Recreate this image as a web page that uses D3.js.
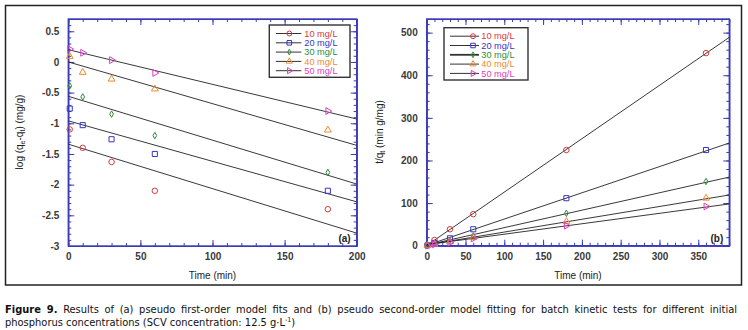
<!DOCTYPE html>
<html>
<head>
<meta charset="utf-8">
<script src="https://cdn.jsdelivr.net/npm/d3@7"></script>
<style>
	body { margin: 0; background: #fff; }
	svg text { font-family: "Liberation Sans", Arial, sans-serif; }
	.tick text { font-size: 10px; font-weight: bold; fill: #3a3a3a; }
	.axis path, .axis line { stroke: #3b3bb8; }
	.caption text { font-family: "Liberation Sans Narrow", "DejaVu Sans Condensed", sans-serif; }
</style>
</head>
<body>
<svg id="chart" width="748" height="330"></svg>
<script>
"use strict";

// concentrations shared by both panels
var concLabels = ["10 mg/L", "20 mg/L", "30 mg/L", "40 mg/L", "50 mg/L"];
var concColors = ["#d83a3a", "#3535c8", "#2e8b3a", "#ef8a2e", "#e03cc0"];

// (a) pseudo first-order: log(qe - qt)
var timesA = [1, 10, 30, 60, 180];
var pfo10 = [-1.10, -1.40, -1.63, -2.10, -2.40];
var pfo20 = [-0.76, -1.03, -1.26, -1.50, -2.10];
var pfo30 = [-0.39, -0.57, -0.85, -1.20, -1.80];
var pfo40 = [0.09, -0.17, -0.28, -0.44, -1.11];
var pfo50 = [0.21, 0.15, 0.03, -0.18, -0.80];
// fit lines: values at t = 0 and t = 200
var fitTimesA = [0, 200];
var fitA10 = [-1.34, -2.79];
var fitA20 = [-0.96, -2.28];
var fitA30 = [-0.56, -1.99];
var fitA40 = [0.00, -1.36];
var fitA50 = [0.20, -0.93];

// (b) pseudo second-order: t/qt
var timesB = [1, 10, 30, 60, 180, 360];
var pso10 = [1.2, 13.4, 38.6, 74, 224.5, 452];
var pso20 = [0.8, 6.5, 17.4, 38.6, 111.5, 224.5];
var pso30 = [0.6, 4.5, 11.5, 23, 76, 150.6];
var pso40 = [0.5, 3.5, 9, 19, 56.5, 111.5];
var pso50 = [0.4, 3, 7.5, 17, 47, 92];
// fit lines: values at t = 0 and t = 390
var fitTimesB = [0, 390];
var fitB10 = [0.5, 489];
var fitB20 = [1, 241];
var fitB30 = [1.5, 161];
var fitB40 = [2, 119];
var fitB50 = [2.5, 98];

var ticksA_x = [0, 50, 100, 150, 200];
var ticksA_y = [-3, -2.5, -2, -1.5, -1, -0.5, 0, 0.5];
var ticksB_x = [0, 50, 100, 150, 200, 250, 300, 350];
var ticksB_y = [0, 100, 200, 300, 400, 500];

var svg = d3.select('#chart');
var noLabel = function() { return ''; };

//outer frame
svg.append('rect')
	.attr('x', 5.5).attr('y', 5.5)
	.attr('width', 736).attr('height', 279.5)
	.attr('fill', 'none').attr('stroke', '#222').attr('stroke-width', 1.5);

var symbols = [
	{type: d3.symbolCircle, size: 24, rotate: 0},
	{type: d3.symbolSquare, size: 26, rotate: 0},
	{type: d3.symbolDiamond, size: 12, rotate: 0},
	{type: d3.symbolTriangle, size: 20, rotate: 0},
	{type: d3.symbolTriangle, size: 20, rotate: 90}
];

function range(a, b, step) {
	var out = [];
	for(var v = a; v <= b + 1e-9; v += step) out.push(+v.toFixed(6));
	return out;
}

function drawPanel(opts) {
	var x = d3.scaleLinear().domain(opts.xDomain).range([opts.left, opts.right]);
	var y = d3.scaleLinear().domain(opts.yDomain).range([opts.bottom, opts.top]);
	var g = svg.append('g');

	//minor ticks on all four sides
	var xMinor = range(opts.xDomain[0], opts.xDomain[1], opts.xMinor);
	var yMinor = range(opts.yMinorStart, opts.yDomain[1], opts.yMinor);
	g.append('g').attr('class', 'axis').attr('transform', 'translate(0,' + opts.bottom + ')')
		.call(d3.axisBottom(x).tickValues(xMinor).tickSizeInner(-3).tickSizeOuter(0).tickFormat(noLabel));
	g.append('g').attr('class', 'axis').attr('transform', 'translate(0,' + opts.top + ')')
		.call(d3.axisTop(x).tickValues(xMinor).tickSizeInner(-3).tickSizeOuter(0).tickFormat(noLabel));
	g.append('g').attr('class', 'axis').attr('transform', 'translate(' + opts.left + ',0)')
		.call(d3.axisLeft(y).tickValues(yMinor).tickSizeInner(-3).tickSizeOuter(0).tickFormat(noLabel));
	g.append('g').attr('class', 'axis').attr('transform', 'translate(' + opts.right + ',0)')
		.call(d3.axisRight(y).tickValues(yMinor).tickSizeInner(-3).tickSizeOuter(0).tickFormat(noLabel));

	//major ticks, labelled on bottom and left only
	g.append('g').attr('class', 'axis').attr('transform', 'translate(0,' + opts.bottom + ')')
		.call(d3.axisBottom(x).tickValues(opts.xTicks).tickSizeInner(-6).tickSizeOuter(0).tickPadding(7).tickFormat(d3.format('')));
	g.append('g').attr('class', 'axis').attr('transform', 'translate(0,' + opts.top + ')')
		.call(d3.axisTop(x).tickValues(opts.xTicks).tickSizeInner(-6).tickSizeOuter(0).tickFormat(noLabel));
	g.append('g').attr('class', 'axis').attr('transform', 'translate(' + opts.left + ',0)')
		.call(d3.axisLeft(y).tickValues(opts.yTicks).tickSizeInner(-6).tickSizeOuter(0).tickPadding(9).tickFormat(function(d) { return String(d); }));
	g.append('g').attr('class', 'axis').attr('transform', 'translate(' + opts.right + ',0)')
		.call(d3.axisRight(y).tickValues(opts.yTicks).tickSizeInner(-6).tickSizeOuter(0).tickFormat(noLabel));

	//plot frame
	g.append('rect')
		.attr('x', opts.left).attr('y', opts.top)
		.attr('width', opts.right - opts.left).attr('height', opts.bottom - opts.top)
		.attr('fill', 'none').attr('stroke', '#3b3bb8').attr('stroke-width', 1.4);

	var clip = 'clip-' + opts.name;
	svg.append('clipPath').attr('id', clip).append('rect')
		.attr('x', opts.left).attr('y', opts.top)
		.attr('width', opts.right - opts.left).attr('height', opts.bottom - opts.top);

	//fit lines
	var line = d3.line().x(function(d) { return x(d[0]); }).y(function(d) { return y(d[1]); });
	opts.fits.forEach(function(f) {
		g.append('path')
			.attr('d', line(opts.fitTimes.map(function(t, i) { return [t, f[i]]; })))
			.attr('clip-path', 'url(#' + clip + ')')
			.attr('fill', 'none').attr('stroke', '#222').attr('stroke-width', 0.9);
	});

	//markers
	opts.series.forEach(function(s, k) {
		var sym = symbols[k];
		g.selectAll('.m' + k).data(s).enter().append('path')
			.attr('d', d3.symbol().type(sym.type).size(sym.size))
			.attr('transform', function(d, i) {
				return 'translate(' + x(opts.times[i]) + ',' + y(d) + ') rotate(' + sym.rotate + ')';
			})
			.attr('fill', 'none').attr('stroke', concColors[k]).attr('stroke-width', 1);
	});

	//legend
	var lg = g.append('g');
	lg.append('rect')
		.attr('x', opts.legend.x).attr('y', opts.legend.y)
		.attr('width', opts.legend.w).attr('height', opts.legend.h)
		.attr('fill', '#fff').attr('stroke', '#333').attr('stroke-width', 1.4);
	concLabels.forEach(function(label, k) {
		var ly = opts.legend.y + 8.5 + k * 9.3;
		var sym = symbols[k];
		lg.append('line')
			.attr('x1', opts.legend.x + opts.legend.lineFrom).attr('x2', opts.legend.x + opts.legend.lineTo)
			.attr('y1', ly).attr('y2', ly)
			.attr('stroke', '#333').attr('stroke-width', k === 2 && opts.name === 'b' ? 1.8 : 1);
		lg.append('path')
			.attr('d', d3.symbol().type(sym.type).size(sym.size * 0.8))
			.attr('transform', 'translate(' + (opts.legend.x + opts.legend.markerAt) + ',' + ly + ') rotate(' + sym.rotate + ')')
			.attr('fill', 'none').attr('stroke', concColors[k]).attr('stroke-width', 1);
		lg.append('text')
			.attr('x', opts.legend.x + opts.legend.textAt).attr('y', ly + 3.2)
			.attr('font-size', 9.2).attr('fill', concColors[k])
			.text(label);
	});

	//panel tag
	g.append('text')
		.attr('x', opts.right - 6).attr('y', opts.bottom - 4)
		.attr('text-anchor', 'end').attr('font-size', 10).attr('font-weight', 'bold').attr('fill', '#222')
		.text(opts.tag);

	//x axis title
	g.append('text')
		.attr('x', (opts.left + opts.right) / 2).attr('y', 279)
		.attr('text-anchor', 'middle').attr('font-size', 10).attr('fill', '#222')
		.text('Time (min)');

	return {x: x, y: y};
}

drawPanel({
	name: 'a', tag: '(a)',
	left: 68.3, right: 356.7, top: 19, bottom: 246,
	xDomain: [0, 200], yDomain: [-3, 0.7],
	xTicks: ticksA_x, yTicks: ticksA_y,
	xMinor: 10, yMinor: 0.1, yMinorStart: -3,
	times: timesA, series: [pfo10, pfo20, pfo30, pfo40, pfo50],
	fitTimes: fitTimesA, fits: [fitA10, fitA20, fitA30, fitA40, fitA50],
	legend: {x: 269.3, y: 25, w: 80.7, h: 52.3, lineFrom: 6.5, lineTo: 32, markerAt: 20, textAt: 35}
});

drawPanel({
	name: 'b', tag: '(b)',
	left: 426.7, right: 729.3, top: 19, bottom: 245.7,
	xDomain: [0, 390], yDomain: [0, 532],
	xTicks: ticksB_x, yTicks: ticksB_y,
	xMinor: 10, yMinor: 20, yMinorStart: 0,
	times: timesB, series: [pso10, pso20, pso30, pso40, pso50],
	fitTimes: fitTimesB, fits: [fitB10, fitB20, fitB30, fitB40, fitB50],
	legend: {x: 444, y: 27.7, w: 84, h: 52.3, lineFrom: 6, lineTo: 35, markerAt: 29, textAt: 37.3}
});

//y axis titles
var ya = svg.append('text')
	.attr('transform', 'translate(23,132) rotate(-90)')
	.attr('text-anchor', 'middle').attr('font-size', 10).attr('fill', '#222');
ya.append('tspan').text('log (q');
ya.append('tspan').attr('font-size', 7).attr('dy', 2).text('e');
ya.append('tspan').attr('dy', -2).text('-q');
ya.append('tspan').attr('font-size', 7).attr('dy', 2).text('t');
ya.append('tspan').attr('dy', -2).text(') (mg/g)');

var yb = svg.append('text')
	.attr('transform', 'translate(383,132) rotate(-90)')
	.attr('text-anchor', 'middle').attr('font-size', 10).attr('fill', '#222');
yb.append('tspan').text('t/q');
yb.append('tspan').attr('font-size', 7).attr('dy', 2).text('t');
yb.append('tspan').attr('dy', -2).text(' (min g/mg)');

//caption: narrow face, first line justified with word spacing
var cap = svg.append('g').attr('class', 'caption').attr('transform', 'translate(5,0)');
var cap1 = cap.append('text').attr('y', 312.5).attr('font-size', 11).attr('fill', '#111');
cap1.append('tspan').attr('font-weight', 'bold').text('Figure 9.');
cap1.append('tspan').text(' Results of (a) pseudo first-order model fits and (b) pseudo second-order model fitting for batch kinetic tests for different initial');

var cap2 = cap.append('text').attr('y', 325.5).attr('font-size', 11).attr('fill', '#111');
cap2.append('tspan').text('phosphorus concentrations (SCV concentration: 12.5 g·L');
cap2.append('tspan').attr('font-size', 7).attr('dy', -4).text('-1');
cap2.append('tspan').attr('dy', 4).text(')');

var w1 = cap1.node().getComputedTextLength();
var spaces = (cap1.text().match(/ /g) || []).length;
var extra = 732 - w1;
if(extra > 0) cap1.attr('word-spacing', extra / spaces);
</script>
</body>
</html>
